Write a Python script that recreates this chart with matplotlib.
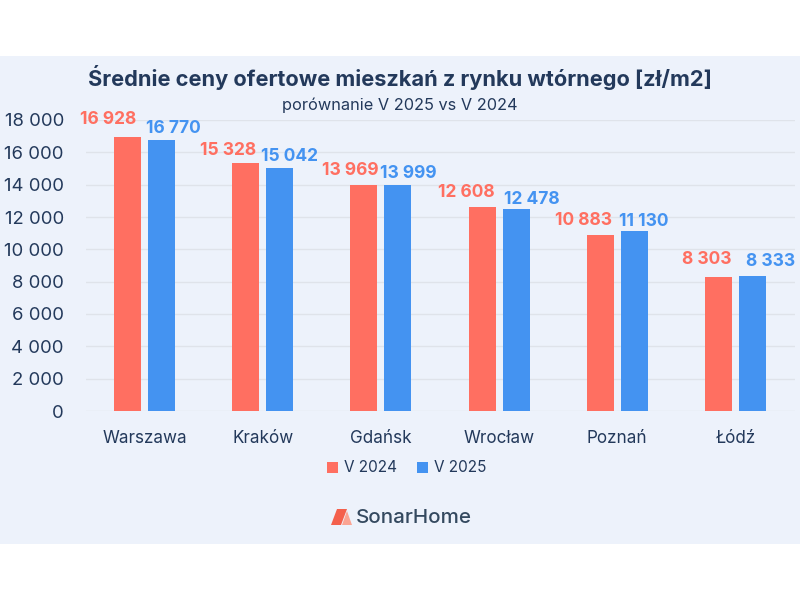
import matplotlib
matplotlib.use('Agg')
import matplotlib.pyplot as plt
from matplotlib.patches import Rectangle, Polygon
import numpy as np

# Datos del grafico
miasta = ['Warszawa', 'Kraków', 'Gdańsk', 'Wrocław', 'Poznań', 'Łódź']
v_2024 = [16928, 15328, 13969, 12608, 10883, 8303]
v_2025 = [16770, 15042, 13999, 12478, 11130, 8333]
y_ticks = [0, 2000, 4000, 6000, 8000, 10000, 12000, 14000, 16000, 18000]

# Desplazamiento de las etiquetas respecto a la barra, en pixeles
dx_2024 = [-19, -18, -14, -16, -17, -11.5]
dy_2024 = [18, 13, 15, 15, 15, 17]
dx_2025 = [12, 10, 10, 16, 10, 18.5]
dy_2025 = [11, 11, 11, 9.5, 10, 14.5]

ROJO = '#ff6f61'
AZUL = '#4493f1'
OSCURO = '#23395b'
FONDO = '#edf2fb'
REJILLA = '#dfe3ea'

plt.rcParams['font.family'] = ['Inter', 'DejaVu Sans']


def miles(v):
    # separador de miles con espacio
    return f'{v:,}'.replace(',', ' ')


fig = plt.figure(figsize=(8, 6), dpi=100, facecolor='white')

# Banda de fondo
fig.patches.append(Rectangle((0, 56 / 600), 1, 488 / 600, transform=fig.transFigure,
                             facecolor=FONDO, edgecolor='none', zorder=-5))

ax = fig.add_axes([85.5 / 800, (600 - 411) / 600, 709 / 800, 291 / 600])
ax.patch.set_alpha(0)

x = np.arange(len(miasta))
ax.bar(x - 0.1437, v_2024, 0.228, color=ROJO, zorder=3, label='V 2024')
ax.bar(x + 0.1437, v_2025, 0.228, color=AZUL, zorder=3, label='V 2025')

for i in range(len(miasta)):
    ax.annotate(miles(v_2024[i]), (x[i] - 0.1437, v_2024[i]), xytext=(dx_2024[i] * 0.72, dy_2024[i] * 0.72),
                textcoords='offset points', ha='center', va='center', color=ROJO, fontsize=12.5,
                fontweight='bold', annotation_clip=False, zorder=4)
    ax.annotate(miles(v_2025[i]), (x[i] + 0.1437, v_2025[i]), xytext=(dx_2025[i] * 0.72, dy_2025[i] * 0.72),
                textcoords='offset points', ha='center', va='center', color=AZUL, fontsize=12.5,
                fontweight='bold', annotation_clip=False, zorder=4)

ax.set_xlim(-0.5, 5.5)
ax.set_ylim(0, 18000)
ax.set_xticks(x)
ax.set_xticklabels(miasta, fontsize=12.3, color=OSCURO)
ax.set_yticks(y_ticks)
ax.set_yticklabels([miles(v) for v in y_ticks], fontsize=13.3, color=OSCURO)
ax.tick_params(axis='both', length=0)
ax.tick_params(axis='x', pad=14)
ax.tick_params(axis='y', pad=15.5)
ax.grid(True, axis='y', color=REJILLA, linewidth=1, zorder=0)
ax.set_axisbelow(True)
for s in ax.spines.values():
    s.set_visible(False)

# Titulos
fig.text(400 / 800, 1 - 77 / 600, 'Średnie ceny ofertowe mieszkań z rynku wtórnego [zł/m2]',
         ha='center', va='center', fontsize=15.7, fontweight='bold', color=OSCURO)
fig.text(400 / 800, 1 - 105 / 600, 'porównanie V 2025 vs V 2024',
         ha='center', va='center', fontsize=11.75, color=OSCURO)

# Leyenda
fig.patches.append(Rectangle((327 / 800, 1 - 473 / 600), 11 / 800, 11 / 600, transform=fig.transFigure,
                             facecolor=ROJO, edgecolor='none'))
fig.text(344 / 800, 1 - 467 / 600, 'V 2024', ha='left', va='center', fontsize=11, color=OSCURO)
fig.patches.append(Rectangle((417 / 800, 1 - 473 / 600), 11 / 800, 11 / 600, transform=fig.transFigure,
                             facecolor=AZUL, edgecolor='none'))
fig.text(434 / 800, 1 - 467 / 600, 'V 2025', ha='left', va='center', fontsize=11, color=OSCURO)

# Logo SonarHome
def px(pts):
    return [(a / 800, 1 - b / 600) for a, b in pts]


fig.patches.append(Polygon(px([(331, 525), (337, 509), (347, 509), (341, 525)]), transform=fig.transFigure,
                           facecolor='#f4604c', edgecolor='none'))
fig.patches.append(Polygon(px([(342, 525), (347, 511), (352, 525)]), transform=fig.transFigure,
                           facecolor='#fba493', edgecolor='none'))
fig.text(356 / 800, 1 - 518 / 600, 'SonarHome', ha='left', va='center', fontsize=14.8, fontweight='medium',
         color='#34495f')

fig.savefig('out.png', dpi=100, facecolor='white')
